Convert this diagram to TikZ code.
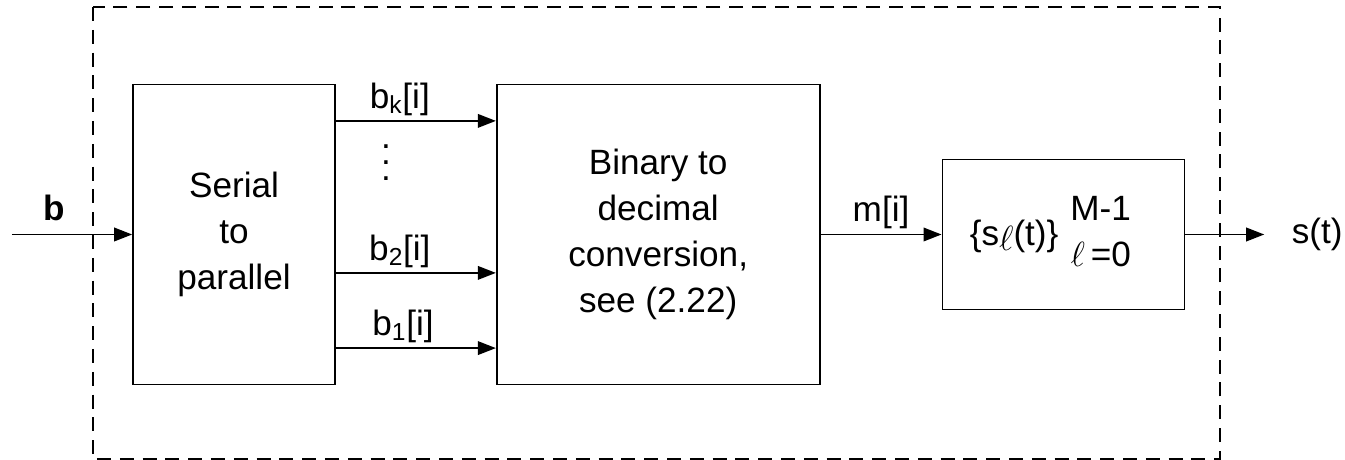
\documentclass[tikz,border=0pt]{standalone}
\usepackage{fontspec}
\setmainfont{Liberation Sans}
\usetikzlibrary{arrows.meta,positioning}

\tikzset{
    block/.style={draw, minimum height=7.5cm, align=center},
    frame/.style={line width=0.9pt, dash pattern=on 3.5mm off 2.2mm},
}

\begin{document}
\begin{tikzpicture}[>={Triangle[length=4.5mm,width=3.4mm]},line width=1.2pt,auto,
    font=\fontsize{25}{32.6}\selectfont]
    \useasboundingbox (-5.85,-5.6375) rectangle (27.775,5.8625);
    \draw[frame] (-3.525,5.6875) rectangle (24.65,-5.6125);

    \node[block, minimum width=5.05cm] (sp) {Serial\\to\\parallel};
    \node[block, minimum width=8.075cm] (bd) [right=4cm of sp] {Binary to\\decimal\\conversion,\\see (2.22)};
    \node[block, minimum width=6.05cm, minimum height=3.75cm] (sig) [right=3.025cm of bd]
        {\raisebox{-0.25cm}{\{s\raisebox{-0.12cm}{$\ell$}(t)\}}\hspace{0.3cm}\raisebox{-0.2cm}{\begin{tabular}{@{}c@{}}M-1\\$\ell$\,=0\end{tabular}}\hspace*{0.65cm}};

    \node[coordinate] (in) at (-5.55,0) {};
    \node[coordinate, right=1.975cm of sig] (out) {};
    \node (st) [right=0.55cm of out] {s(t)};
    \node (dots) [align=center, font=\fontsize{25}{11.4}\selectfont] at (3.8,1.8) {.\\.\\.};

    \path[->] (in) edge node[pos=0.35, yshift=0.2cm] {\textbf{b}} (sp);
    \path[->] ([yshift=2.84cm]sp.east) edge node[pos=0.4] {b\textsubscript{k}[i]} ([yshift=2.84cm]bd.west);
    \path[->] ([yshift=-0.96cm]sp.east) edge node[pos=0.4] {b\textsubscript{2}[i]} ([yshift=-0.96cm]bd.west);
    \path[->] ([yshift=-2.84cm]sp.east) edge node[pos=0.42] {b\textsubscript{1}[i]} ([yshift=-2.84cm]bd.west);
    \path[->] (bd) edge node {m[i]} (sig);
    \path[->] (sig) edge (out);
\end{tikzpicture}
\end{document}
